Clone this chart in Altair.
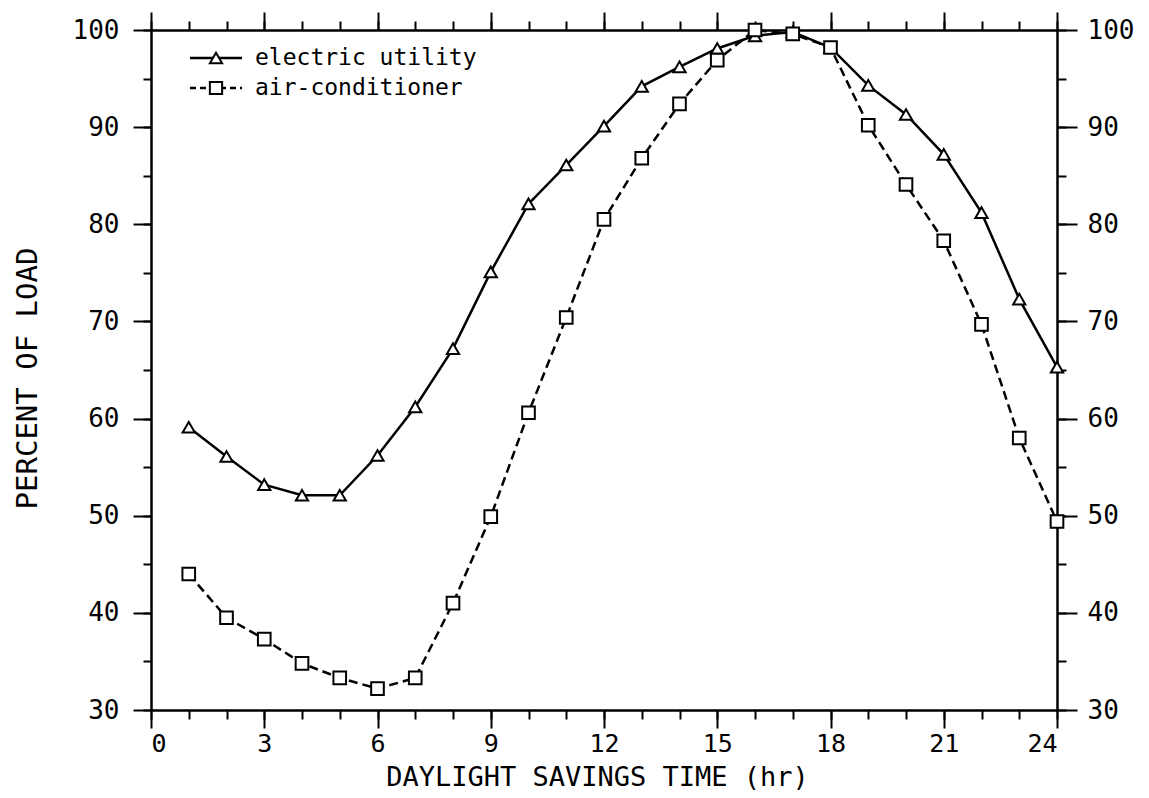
import altair as alt
import pandas as pd

# ---- data ----
hours = list(range(1, 25))
electric_utility = [59.1, 56.1, 53.2, 52.1, 52.1, 56.2, 61.2, 67.2, 75.1, 82.1, 86.1, 90.1,
                    94.2, 96.2, 98.1, 99.4, 99.8, 98.2, 94.3, 91.3, 87.2, 81.2, 72.3, 65.3]
air_conditioner = [44.0, 39.5, 37.3, 34.8, 33.3, 32.2, 33.3, 41.0, 49.9, 60.6, 70.4, 80.5,
                   86.8, 92.4, 96.9, 100.0, 99.6, 98.2, 90.2, 84.1, 78.3, 69.7, 58.0, 49.4]
series_names = ["electric utility", "air-conditioner"]
x_major = [0, 3, 6, 9, 12, 15, 18, 21, 24]
x_minor = list(range(0, 25))
y_major = [30, 40, 50, 60, 70, 80, 90, 100]
y_minor = [30, 35, 40, 45, 50, 55, 60, 65, 70, 75, 80, 85, 90, 95, 100]
x_title = "DAYLIGHT SAVINGS TIME (hr)"
y_title = "PERCENT OF LOAD"

FONT = "DejaVu Sans Mono"

df_e = pd.DataFrame({"hour": hours, "load": electric_utility, "series": series_names[0]})
df_a = pd.DataFrame({"hour": hours, "load": air_conditioner, "series": series_names[1]})

xs = alt.Scale(domain=[0, 24], nice=False, zero=False)
ys = alt.Scale(domain=[30, 100], nice=False, zero=False)

common = dict(domainColor="black", domainWidth=2, tickColor="black", tickWidth=2,
              labelFont=FONT, labelColor="black", grid=False)


def ax(orient, values, size, labels=True, title=None, fs=26, **kw):
    return alt.Axis(orient=orient, values=values, tickSize=size, labels=labels,
                    labelFontSize=fs, title=title, **common, **kw)


x_bottom_major = ax("bottom", x_major, 18, fs=25, labelPadding=3, title=x_title,
                    titleFont=FONT, titleFontSize=27, titleFontWeight="normal",
                    titleColor="black", titleY=75, titleX=446,
                    titleBaseline="alphabetic", titleAlign="center")
x_bottom_minor = ax("bottom", x_minor, 9, labels=False)
x_top_major = ax("top", x_major, 18, labels=False)
x_top_minor = ax("top", x_minor, 9, labels=False)

y_left_major = ax("left", y_major, 18, labelPadding=14, title=y_title,
                  titleFont=FONT, titleFontSize=29, titleFontWeight="normal",
                  titleColor="black", titleX=-124, titleY=348, titleAngle=270,
                  titleBaseline="middle", titleAlign="center")
y_left_minor = ax("left", y_minor, 8, labels=False)
y_right_major = ax("right", y_major, 20, labelPadding=10)
y_right_minor = ax("right", y_minor, 9, labels=False)

e_line = alt.Chart(df_e).mark_line(color="black", strokeWidth=2.5).encode(
    x=alt.X("hour:Q", scale=xs, axis=x_bottom_major),
    y=alt.Y("load:Q", scale=ys, axis=y_left_major),
)
a_line = alt.Chart(df_a).mark_line(color="black", strokeWidth=2.5, strokeDash=[9, 5]).encode(
    x=alt.X("hour:Q", scale=xs, axis=x_top_major),
    y=alt.Y("load:Q", scale=ys, axis=y_right_major),
)
e_pts = alt.Chart(df_e).mark_point(shape="triangle-up", filled=True, fill="white",
                                    stroke="black", strokeWidth=2, size=150, opacity=1).encode(
    x=alt.X("hour:Q", scale=xs, axis=x_bottom_minor),
    y=alt.Y("load:Q", scale=ys, axis=y_left_minor),
)
a_pts = alt.Chart(df_a).mark_point(shape="square", filled=True, fill="white",
                                    stroke="black", strokeWidth=2, size=160, opacity=1).encode(
    x=alt.X("hour:Q", scale=xs, axis=x_top_minor),
    y=alt.Y("load:Q", scale=ys, axis=y_right_minor),
)

# ---- legend (inside top-left) ----
leg_e = pd.DataFrame({"name": [series_names[0]]})
leg_a = pd.DataFrame({"name": [series_names[1]]})

leg_layers = []
for d, yv, dash, shape in [(leg_e, 28, [1, 0], "triangle-up"), (leg_a, 58, [6, 4], "square")]:
    leg_layers.append(alt.Chart(d).mark_rule(color="black", strokeWidth=2.5, strokeDash=dash).encode(
        x=alt.value(39), x2=alt.value(91), y=alt.value(yv)))
    leg_layers.append(alt.Chart(d).mark_point(shape=shape, filled=True, fill="white", stroke="black",
                                              strokeWidth=2, size=150, opacity=1).encode(
        x=alt.value(65), y=alt.value(yv)))
    leg_layers.append(alt.Chart(d).mark_text(align="left", baseline="middle", font=FONT,
                                             fontSize=23, color="black").encode(
        x=alt.value(104), y=alt.value(yv), text="name:N"))

chart = alt.layer(e_line, a_line, e_pts, a_pts, *leg_layers).resolve_axis(
    x="independent", y="independent"
).properties(
    width=906, height=680,
    autosize=alt.AutoSizeParams(type="none"),
    padding={"left": 143, "top": 22, "right": 80, "bottom": 80},
).configure_view(stroke=None).configure(background="white")

chart.save("out.html", embed_options={"renderer": "svg", "actions": False})
